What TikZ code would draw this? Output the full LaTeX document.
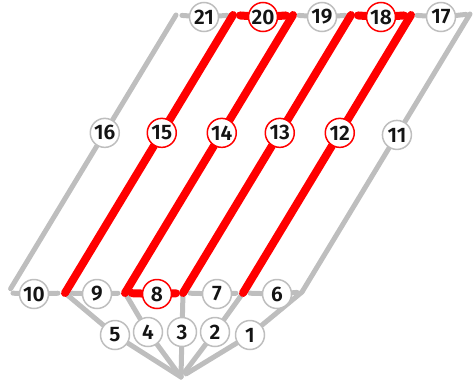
\documentclass[tikz,border=0pt]{standalone}
\usepackage{fontspec}
\setmainfont{Fira Sans}[UprightFont=* SemiBold]
\usetikzlibrary{calc,backgrounds}
\definecolor{cgray}{RGB}{190,190,190}
\definecolor{cred}{RGB}{255,0,0}
\definecolor{ctext}{RGB}{20,20,20}
\begin{document}
\begin{tikzpicture}[x=1pt,y=-1pt,
  lab/.style={circle,draw=cgray,line width=1.5pt,fill=white,minimum size=29pt,inner sep=0pt,
    font=\fontsize{21}{21}\selectfont,text=ctext},
  labr/.style={lab,draw=cred},
  ge/.style={draw=cgray,line width=5pt,line cap=round},
  re/.style={draw=cred,line width=8pt,line cap=round}]
\useasboundingbox (0,0) rectangle (473,380);
% vertices
\coordinate (V0) at (8,293);
\coordinate (V1) at (65,293);
\coordinate (V2) at (125,293);
\coordinate (V3) at (183,293);
\coordinate (V4) at (243,293);
\coordinate (V5) at (302,292);
\coordinate (T0) at (176,15);
\coordinate (T1) at (233,15);
\coordinate (T2) at (293,15);
\coordinate (T3) at (351,15);
\coordinate (T4) at (411,15);
\coordinate (T5) at (470,14);
\coordinate (A) at (181,377);
% top row
\node[lab]  (n21) at (204,17) {21};
\node[labr] (n20) at (263,17) {20};
\node[lab]  (n19) at (322,17) {19};
\node[labr] (n18) at (381,17) {18};
\node[lab]  (n17) at (441,17) {17};
% diagonals
\node[lab]  (n16) at ($(V0)!0.576!(T0)$) {16};
\node[labr] (n15) at ($(V1)!0.576!(T1)$) {15};
\node[labr] (n14) at ($(V2)!0.576!(T2)$) {14};
\node[labr] (n13) at ($(V3)!0.576!(T3)$) {13};
\node[labr] (n12) at ($(V4)!0.576!(T4)$) {12};
\node[lab]  (n11) at ($(V5)!0.565!(T5)$) {11};
% bottom row
\node[lab]  (n10) at (34,294) {10};
\node[lab]  (n9)  at (97,294) {9};
\node[labr] (n8)  at (157,294) {8};
\node[lab]  (n7)  at (217,294) {7};
\node[lab]  (n6)  at (277,294) {6};
% fan
\node[lab] (n5) at (115,335) {5};
\node[lab] (n4) at (148,332) {4};
\node[lab] (n3) at (182,332) {3};
\node[lab] (n2) at (215,332) {2};
\node[lab] (n1) at (250,335) {1};
\begin{pgfonlayer}{background}
% gray row edges
\draw[ge,shorten <=6pt] (T0) -- (n21);
\draw[ge,shorten >=6pt] (n21) -- (T1);
\draw[ge,shorten <=6pt] (T2) -- (n19);
\draw[ge,shorten >=6pt] (n19) -- (T3);
\draw[ge,shorten <=6pt] (T4) -- (n17);
\draw[ge,shorten >=4pt] (n17) -- (T5);
\draw[ge,shorten <=5pt] (V0) -- (n10);
\draw[ge,shorten >=7pt] (n10) -- (V1);
\draw[ge,shorten <=7pt] (V1) -- (n9);
\draw[ge,shorten >=7pt] (n9) -- (V2);
\draw[ge,shorten <=7pt] (V3) -- (n7);
\draw[ge,shorten >=7pt] (n7) -- (V4);
\draw[ge,shorten <=7pt] (V4) -- (n6);
\draw[ge,shorten >=5pt] (n6) -- (V5);
% gray diagonals
\draw[ge,shorten <=5pt] (V0) -- (n16);
\draw[ge] (n16) -- (T0);
\draw[ge] (V5) -- (n11) -- (T5);
% fan
\draw[ge] (V1) -- (n5) -- (A);
\draw[ge] (V2) -- (n4) -- (A);
\draw[ge] (V3) -- (n3) -- (A);
\draw[ge] (V4) -- (n2);
\draw[ge,shorten >=6pt] (n2) -- (A);
\draw[ge] (V5) -- (n1);
\draw[ge,shorten >=6pt] (n1) -- (A);
% red diagonals
\draw[re] (V1) -- (n15) -- (T1);
\draw[re] (V2) -- (n14) -- (T2);
\draw[re] (V3) -- (n13) -- (T3);
\draw[re] (V4) -- (n12) -- (T4);
% red row edges
\draw[re,shorten <=7pt] (T1) -- (n20);
\draw[re,shorten >=7pt] (n20) -- (T2);
\draw[re,shorten <=7pt] (T3) -- (n18);
\draw[re,shorten >=7pt] (n18) -- (T4);
\draw[re,shorten <=7pt] (V2) -- (n8);
\draw[re,shorten >=7pt] (n8) -- (V3);
\end{pgfonlayer}
\end{tikzpicture}
\end{document}
